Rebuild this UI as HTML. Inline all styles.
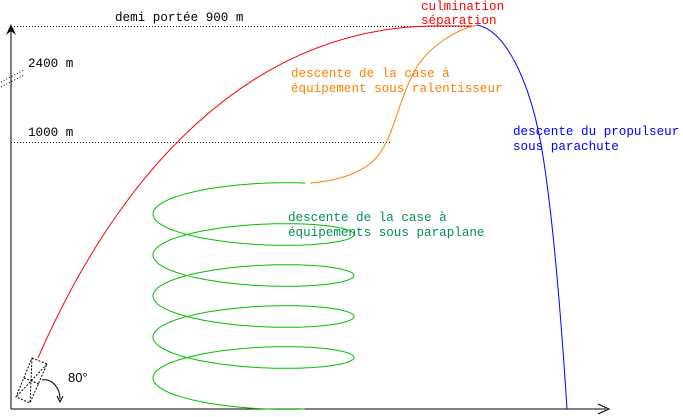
<!DOCTYPE html>
<html><head><meta charset="utf-8"><style>
html,body{margin:0;padding:0;background:#fff;}
svg{display:block;}
text{font-family:"Liberation Mono",monospace;font-size:12.6px;}
</style></head><body>
<svg width="683" height="417" viewBox="0 0 683 417" xmlns="http://www.w3.org/2000/svg">
<g stroke="#000" stroke-width="1" fill="none">
<line x1="11" y1="409" x2="11" y2="26"/>
<line x1="11" y1="409" x2="606" y2="409"/>
</g>
<path d="M6,35 L11,24 L16,35 L11,31 Z" fill="#000"/>
<path d="M598,404 L609,409 L598,414" fill="none" stroke="#000"/>
<g stroke="#000" stroke-dasharray="1,2" fill="none">
<line x1="11" y1="26.5" x2="470" y2="26.5"/>
<line x1="11" y1="142.5" x2="392" y2="142.5"/>
<line x1="1" y1="82" x2="24" y2="70"/>
<line x1="1" y1="87" x2="24" y2="75"/>
</g>
<text x="115" y="21">demi portée 900 m</text>
<text x="28" y="67">2400 m</text>
<text x="28" y="136">1000 m</text>
<text x="421" y="10" fill="#ff0000">culmination</text>
<text x="421" y="24" fill="#ff0000">séparation</text>
<text x="291" y="77" fill="#ff8000">descente de la case à</text>
<text x="291" y="92" fill="#ff8000">équipement sous ralentisseur</text>
<text x="513" y="135" fill="#0000ff">descente du propulseur</text>
<text x="513" y="150" fill="#0000ff">sous parachute</text>
<text x="288" y="221" fill="#009050">descente de la case à</text>
<text x="288" y="236" fill="#009050">équipements sous paraplane</text>
<text x="68" y="382" style="font-family:'Liberation Sans',sans-serif;font-size:13px">80°</text>
<path d="M38,358 C120,170 250,30 430,26 L472,26" stroke="#ff0000" fill="none"/>
<path d="M310,183 C345,180 370,170 382,150 C395,130 400,95 418,65 C432,45 455,30 477,25" stroke="#ff8000" fill="none"/>
<path d="M477,25 C505,30 530,80 542,150 C552,210 560,300 567,409" stroke="#0000ff" fill="none"/>
<path id="sp" stroke="#00c000" fill="none" d=""/>
<g stroke="#000" stroke-dasharray="2,1.5" fill="none">
<polygon points="32,358 47,364 30,403 16,397"/>
<line x1="32" y1="358" x2="30" y2="403"/>
<line x1="47" y1="364" x2="16" y2="397"/>
<line x1="24" y1="378" x2="39" y2="384"/>
</g>
<path d="M42,380 C52,378 60,388 60,399" stroke="#000" fill="none"/>
<path d="M57,396 L60,402 L63,396" stroke="#000" fill="none"/>
</svg>
<script>
(function(){
var cx=253.5,rx=100.5,ry=20,a=203.75,p=41,d="";
var t0=-0.54,t1=9*Math.PI+0.54;
for(var t=t0;t<=t1+1e-9;t+=0.05){
var x=cx-rx*Math.sin(t),y=a+p*t/(2*Math.PI)-ry*Math.cos(t);
d+=(d?"L":"M")+x.toFixed(1)+","+y.toFixed(1);
}
document.getElementById("sp").setAttribute("d",d);
})();
</script>
</body></html>
